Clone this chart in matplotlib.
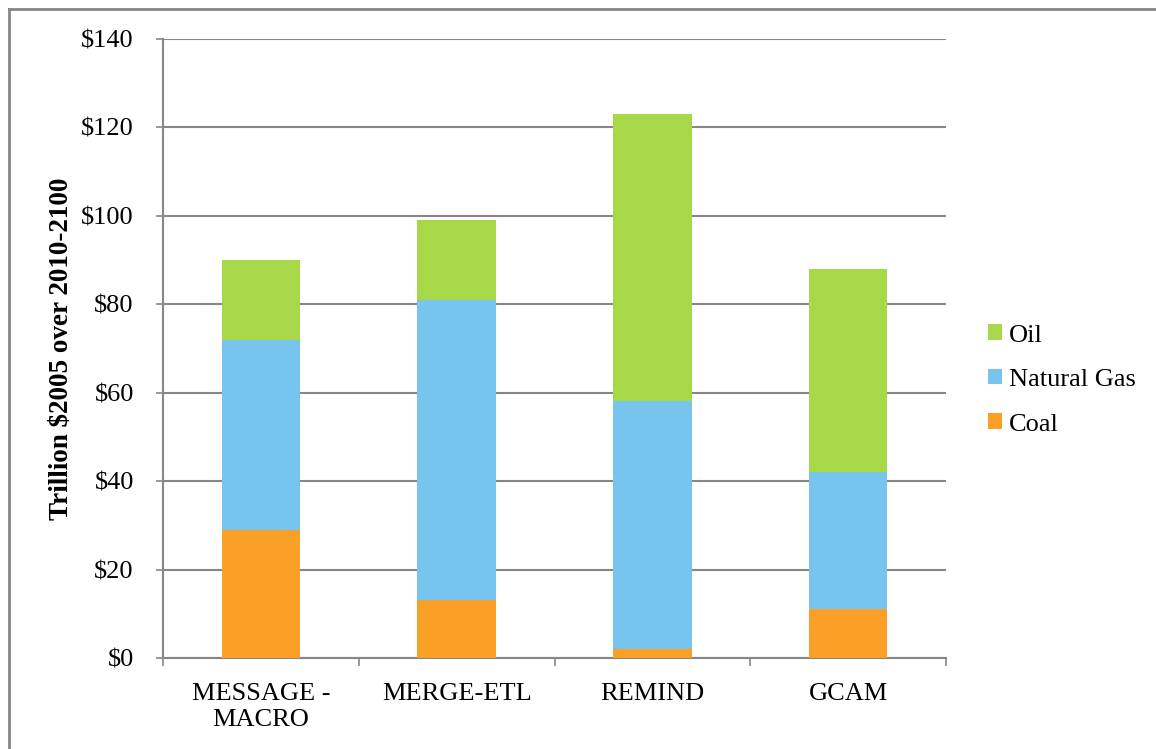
import matplotlib
matplotlib.use("Agg")
import matplotlib.pyplot as plt
from matplotlib.lines import Line2D
from matplotlib.patches import Patch

models = ["MESSAGE -\nMACRO", "MERGE-ETL", "REMIND", "GCAM"]
coal = [29, 13, 2, 11]
natural_gas = [43, 68, 56, 31]
oil = [18, 18, 65, 46]
y_ticks = [0, 20, 40, 60, 80, 100, 120, 140]

c_oil = "#A6D84A"
c_gas = "#77C4EE"
c_coal = "#FBA026"
grid_c = "#868686"
fs = 19

plt.rcParams["font.family"] = ["Liberation Serif", "DejaVu Serif"]

fig = plt.figure(figsize=(11.56, 7.49), dpi=100)
ax = fig.add_axes([163 / 1156, 1 - 658 / 749, (946 - 163) / 1156, (658 - 38.7) / 749])

x = list(range(len(models)))
bottom_gas = coal
bottom_oil = [a + b for a, b in zip(coal, natural_gas)]
w = 0.40
ax.bar(x, coal, width=w, color=c_coal, zorder=3)
ax.bar(x, natural_gas, width=w, bottom=bottom_gas, color=c_gas, zorder=3)
ax.bar(x, oil, width=w, bottom=bottom_oil, color=c_oil, zorder=3)

ax.set_xlim(-0.5, len(models) - 0.5)
ax.set_ylim(0, 140)
ax.set_yticks(y_ticks)
ax.set_yticklabels([f"${v}" for v in y_ticks])
ax.yaxis.grid(True, color=grid_c, linewidth=1.5, zorder=0)
ax.set_axisbelow(True)

ax.set_xticks(x)
ax.set_xticklabels(models)
ax.set_xticks([i - 0.5 for i in range(len(models) + 1)], minor=True)
ax.tick_params(axis="x", which="major", length=0, pad=18, labelsize=fs)
ax.tick_params(axis="x", which="minor", length=6, width=1.2, color=grid_c, direction="out")
ax.tick_params(axis="y", length=5, width=1.2, color=grid_c, pad=16, labelsize=fs)
for lbl in ax.get_xticklabels():
    lbl.set_linespacing(1.25)

for s in ["top", "right"]:
    ax.spines[s].set_visible(False)
for s in ["left", "bottom"]:
    ax.spines[s].set_color(grid_c)
    ax.spines[s].set_linewidth(1.5)

fig.text(61.7 / 1156, 1 - 349 / 749, "Trillion $2005 over 2010-2100", rotation=90,
         ha="center", va="center", fontsize=19.5, fontweight="bold")

handles = [Patch(facecolor=c_oil), Patch(facecolor=c_gas), Patch(facecolor=c_coal)]
fig.legend(handles, ["Oil", "Natural Gas", "Coal"], loc="center left",
           bbox_to_anchor=(988 / 1156, 1 - 380 / 749), frameon=False, fontsize=fs,
           handlelength=0.53, handleheight=0.53, handletextpad=0.25, labelspacing=0.85,
           borderpad=0, borderaxespad=0)

# Outer frame edges
fig.add_artist(Line2D([8.5 / 1156, 1.0], [1 - 9 / 749, 1 - 9 / 749], color=grid_c, linewidth=2,
                      transform=fig.transFigure))
fig.add_artist(Line2D([8.5 / 1156, 8.5 / 1156], [0, 1 - 9 / 749], color=grid_c, linewidth=2,
                      transform=fig.transFigure))

fig.savefig("out.png", dpi=100)
